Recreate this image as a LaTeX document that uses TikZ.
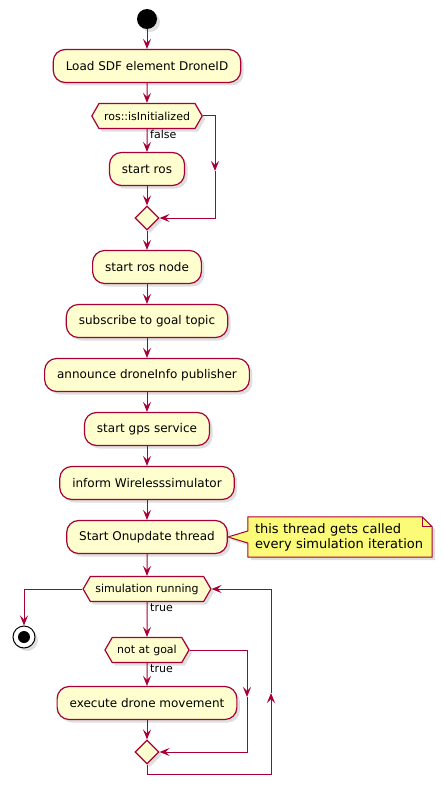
\documentclass[tikz,border=0pt]{standalone}
\usepackage{fontspec}
\setmainfont{DejaVu Sans}
\usetikzlibrary{arrows.meta,shapes.geometric,shapes.symbols,shadows,backgrounds}
\definecolor{umlred}{HTML}{A80036}
\definecolor{umlfill}{HTML}{FEFECE}
\definecolor{notefill}{HTML}{FBFB77}

\begin{document}
\begin{tikzpicture}[x=1pt,y=-1pt,
    umlshadow/.style={drop shadow={shadow xshift=3pt,shadow yshift=-3pt,opacity=0.25,fill=gray}},
    act/.style={rectangle,rounded corners=12pt,draw=umlred,fill=umlfill,line width=1.2pt,
        minimum height=33pt,inner xsep=12.5pt,font=\fontsize{12}{14}\selectfont,umlshadow},
    cond/.style={signal,signal to=west and east,signal pointer angle=120,draw=umlred,fill=umlfill,
        line width=1.2pt,minimum height=25pt,inner xsep=5pt,font=\fontsize{11}{13}\selectfont,umlshadow},
    merge/.style={diamond,aspect=1,draw=umlred,fill=umlfill,line width=1.2pt,inner sep=0pt,
        minimum size=24pt,umlshadow},
    guard/.style={anchor=north west,inner sep=1pt,font=\fontsize{11}{13}\selectfont},
    flow/.style={draw=umlred,line width=1pt,-{Stealth[length=10pt,width=8pt,inset=4pt]}}]
    \useasboundingbox (0,0) rectangle (442,797);

    % start / actions
    \node[circle,fill=black,minimum size=20pt,inner sep=0pt,umlshadow] (start) at (147,19) {};
    \node[act] (load) at (147,66) {Load SDF element DroneID};
    \node[cond] (rosinit) at (147,116) {ros::isInitialized};
    \node[act] (startros) at (147,169) {start ros};
    \node[merge] (m1) at (147,218) {};
    \node[act] (rosnode) at (147,267) {start ros node};
    \node[act] (subscribe) at (147,321) {subscribe to goal topic};
    \node[act] (announce) at (147,375) {announce droneInfo publisher};
    \node[act] (gps) at (147,429) {start gps service};
    \node[act] (inform) at (147,483) {inform Wirelesssimulator};
    \node[act] (onupdate) at (147,537) {Start Onupdate thread};
    \node[align=left,inner sep=0pt,minimum width=184pt,minimum height=40pt,
        text width=170pt,font=\fontsize{13}{15}\selectfont] (note) at (340,537)
        {this thread gets called\\every simulation iteration};

    % loop
    \node[cond] (simrun) at (147,589) {simulation running};
    \node[circle,draw=black,fill=white,line width=1pt,minimum size=22pt,inner sep=0pt,umlshadow,
        path picture={\fill[black] (path picture bounding box.center) circle (6pt);}] (stop) at (24,637) {};
    \node[cond] (goal) at (147,650) {not at goal};
    \node[act] (exec) at (147,703) {execute drone movement};
    \node[merge] (m2) at (147,752) {};

    \node[guard] at ([xshift=2pt]rosinit.south) {false};
    \node[guard] at ([xshift=2pt]simrun.south) {true};
    \node[guard] at ([xshift=2pt]goal.south) {true};

    \coordinate (r1) at (215,171);
    \coordinate (g1) at (247,697);
    \coordinate (l1) at (147,774);
    \coordinate (l2) at (271,693);

    % note
    \begin{scope}[on background layer]
        \filldraw[draw=umlred,fill=notefill,line width=1pt,umlshadow]
            (note.north west) -- ([xshift=-10pt]note.north east) -- ([yshift=-10pt]note.north east)
            -- (note.south east) -- (note.south west) -- ([yshift=-6pt]note.west)
            -- (onupdate.east) -- ([yshift=6pt]note.west) -- cycle;
        \draw[umlred,line width=1pt] ([xshift=-10pt]note.north east) -- ++(0,10) -- ++(10,0);
    \end{scope}

    \path[flow] (start) -- (load);
    \path[flow] (load) -- (rosinit);
    \path[flow] (rosinit) -- (startros);
    \path[flow] (rosinit.east) -| (r1);
    \path[flow] (r1) |- (m1.east);
    \path[flow] (startros) -- (m1);
    \path[flow] (m1) -- (rosnode);
    \path[flow] (rosnode) -- (subscribe);
    \path[flow] (subscribe) -- (announce);
    \path[flow] (announce) -- (gps);
    \path[flow] (gps) -- (inform);
    \path[flow] (inform) -- (onupdate);
    \path[flow] (onupdate) -- (simrun);
    \path[flow] (simrun.west) -| (stop);
    \path[flow] (simrun) -- (goal);
    \path[flow] (goal) -- (exec);
    \path[flow] (goal.east) -| (g1);
    \path[flow] (g1) |- (m2.east);
    \path[flow] (exec) -- (m2);
    \path[draw=umlred,line width=1pt] (m2.south) -- (l1);
    \path[flow] (l1) -| (l2);
    \path[flow] (l2) |- (simrun.east);
\end{tikzpicture}
\end{document}
